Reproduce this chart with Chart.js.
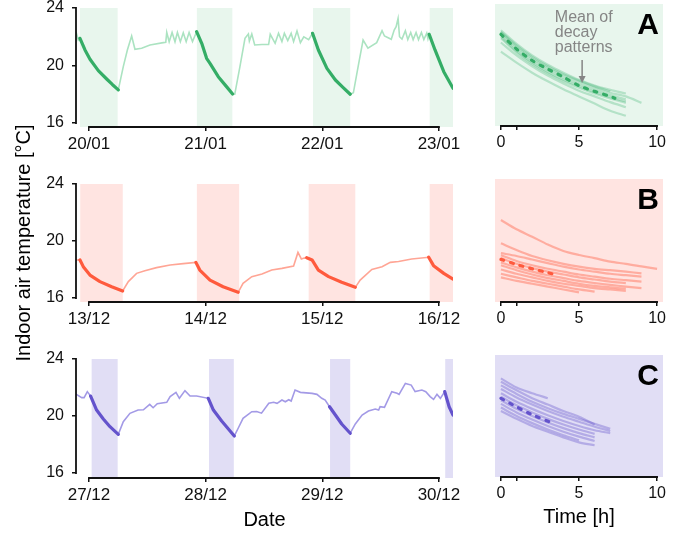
<!DOCTYPE html>
<html>
<head>
<meta charset="utf-8">
<script src="https://cdn.jsdelivr.net/npm/chart.js@4.4.1/dist/chart.umd.min.js"></script>
<style>
  html, body { margin: 0; padding: 0; background: #fff; }
  #wrap { position: relative; width: 691px; height: 534px; }
  #wrap canvas { position: absolute; left: 0; top: 0; }
</style>
</head>
<body>
<div id="wrap">
  <canvas id="rightA" width="691" height="534"></canvas>
  <canvas id="rightB" width="691" height="534"></canvas>
  <canvas id="rightC" width="691" height="534"></canvas>
  <canvas id="leftA" width="691" height="534"></canvas>
  <canvas id="leftB" width="691" height="534"></canvas>
  <canvas id="leftC" width="691" height="534"></canvas>
</div>
<script>
// ---- time series (hours from first midnight shown) ----
const dayTicks = [0, 24, 48, 72];
const tempTicks = [16, 20, 24];

const datesA = ['20/01', '21/01', '22/01', '23/01'];
const hoursA = [-2.67, -2.2, -1.85, -0.82, 0.21, 1.92, 3.64, 4.8, 6.03, 7.06, 7.9, 8.78, 9.46, 10.84, 12.55, 15.3, 15.8,
  16.0, 16.5, 17.1, 17.7, 18.2, 18.8, 19.4, 20.0, 20.6, 21.3, 22.15, 23.2, 24.2, 24.9, 26.6, 28.3, 29.55,
  30.0, 31.06, 32.1, 32.8, 33.0, 33.5, 34.1, 35.6, 36.96, 37.3, 38.3, 39.0, 39.7, 40.2, 40.9, 41.6, 42.1, 42.8,
  43.5, 44.2, 45.2, 46.0, 47.2, 48.96, 50.7, 52.2, 53.75, 54.4, 55.5, 56.4, 57.4, 59.2, 60.3, 60.8, 62.2, 62.8,
  63.2, 63.6, 63.9, 64.4, 65.1, 65.6, 66.2, 66.7, 67.3, 67.8, 68.4, 68.9, 69.5, 69.75, 70.0, 71.2, 73.0, 74.9];
const tempsA = [22.35, 21.77, 21.89, 21.08, 20.43, 19.64, 19.06, 18.68, 18.3, 19.92, 21.08, 22.05, 21.13, 21.2, 21.43, 21.59, 21.62,
  22.31, 21.65, 22.3, 21.65, 22.3, 21.66, 22.28, 21.66, 22.3, 21.66, 22.35, 21.54, 20.5, 20.15, 19.22, 18.53, 18.02,
  18.0, 19.92, 21.89, 22.19, 21.7, 22.19, 21.43, 21.46, 21.46, 22.17, 21.54, 22.24, 21.66, 22.24, 21.73, 22.24, 21.66, 22.4,
  21.59, 22.0, 21.8, 22.24, 21.08, 19.8, 18.99, 18.5, 18.0, 18.1, 20.15, 21.77, 21.2, 21.59, 22.42, 22.05, 21.82, 22.47,
  22.7, 23.28, 22.0, 21.84, 22.42, 21.8, 22.3, 21.8, 22.3, 21.8, 22.3, 21.8, 22.25, 21.85, 22.17, 21.08, 19.57, 18.41];
const decayA = [[-1.85, 6.03], [22.15, 29.55], [46.0, 53.75], [70.0, 74.9]];
const nightA = [[-1.85, 5.9], [22.2, 29.5], [46.1, 53.75], [70.1, 75]];

const datesB = ['13/12', '14/12', '15/12', '16/12'];
const hoursB = [-2.67, -1.85, -1.17, 0.2, 2.26, 4.67, 6.93, 8.1, 9.8, 11.5, 13.9, 16.7, 19.4, 22.0, 22.8, 24.9, 27.6, 30.7,
  31.7, 33.5, 35.6, 37.6, 39.7, 42.1, 43.0, 43.7, 44.3, 44.8, 45.9, 47.2, 49.3, 52.0, 54.8, 55.8, 58.2, 60.3, 62.0,
  63.7, 66.4, 69.9, 70.9, 73.0, 74.9];
const tempsB = [18.67, 18.67, 18.2, 17.61, 17.15, 16.79, 16.49, 17.15, 17.73, 17.92, 18.13, 18.32, 18.41, 18.5, 17.96, 17.26, 16.79, 16.4,
  17.03, 17.5, 17.68, 17.96, 18.08, 18.25, 19.2, 18.74, 18.8, 18.83, 18.67, 17.96, 17.5, 17.1, 16.75, 17.26, 18.0, 18.2, 18.5,
  18.56, 18.74, 18.86, 18.27, 17.73, 17.33];
const decayB = [[-1.85, 6.93], [22.0, 30.7], [44.8, 54.8], [69.9, 74.9]];
const nightB = [[-1.8, 6.95], [22.2, 30.9], [45.2, 54.8], [70.1, 75]];

const datesC = ['27/12', '28/12', '29/12', '30/12'];
const hoursC = [-2.67, -1.5, -1.0, -0.34, 0.34, 1.57, 2.95, 4.32, 6.03, 7.06, 8.43, 10.1, 11.2, 12.5, 13.2, 14.05, 16.0, 16.7,
  17.9, 18.6, 19.75, 20.8, 22.15, 24.55, 25.6, 27.3, 29.9, 30.7, 31.7, 33.5, 34.5, 35.5, 37.0, 38.0, 38.7, 39.7, 40.4,
  41.1, 41.6, 42.4, 43.5, 45.9, 46.9, 47.9, 48.6, 49.5, 50.7, 52.0, 53.75, 54.8, 56.2, 57.5, 58.9, 59.6, 59.9, 60.8,
  62.3, 63.4, 63.8, 65.1, 66.3, 67.1, 68.5, 69.3, 70.2, 70.9, 71.6, 72.3, 73.2, 74.1, 74.9];
const tempsC = [21.54, 21.29, 21.29, 21.71, 21.4, 20.42, 19.79, 19.25, 18.71, 19.6, 20.19, 20.42, 20.44, 20.82, 20.58, 20.86, 20.96, 21.36,
  21.66, 21.24, 21.78, 21.4, 21.4, 21.24, 20.42, 19.65, 18.6, 19.14, 19.84, 20.3, 20.32, 20.2, 20.89, 20.96, 20.89, 21.12, 21.0,
  21.14, 21.05, 21.82, 21.66, 21.59, 21.52, 21.24, 21.12, 20.65, 20.07, 19.44, 18.79, 19.44, 20.07, 20.35, 20.49, 20.42, 20.65, 20.61,
  21.71, 21.59, 21.52, 22.29, 22.17, 21.71, 21.82, 21.71, 21.36, 21.17, 21.52, 21.24, 21.71, 20.65, 20.07];
const decayC = [[0.34, 6.03], [24.55, 29.9], [49.5, 53.75], [73.2, 74.9]];
const nightC = [[0.55, 5.9], [24.7, 29.8], [49.6, 53.75], [73.3, 75]];

// ---- decay patterns (hourly samples from start of decay) ----
const timeTicks = [0, 1, 5, 10];
const timeTickLabels = ['0', '', '5', '10'];

const curvesA = [
  [22.45, 21.5, 20.7, 20.05, 19.5, 19.0, 18.6, 18.3, 18.05],
  [22.3, 21.3, 20.5, 19.85, 19.3, 18.85, 18.45, 18.1, 17.85, 17.4],
  [22.15, 21.15, 20.35, 19.7, 19.15, 18.7, 18.3, 17.95, 17.65],
  [22.0, 21.0, 20.2, 19.55, 19.0, 18.55, 18.15, 17.8, 17.5],
  [21.9, 20.9, 20.1, 19.45, 18.9, 18.45, 18.05, 17.7, 17.4],
  [22.35, 21.4, 20.6, 19.95, 19.4, 18.95, 18.55, 18.2],
  [21.6, 20.7, 19.95, 19.3, 18.75, 18.25, 17.85, 17.45, 17.1],
  [20.96, 20.2, 19.5, 18.9, 18.35, 17.85, 17.35, 16.85, 16.5]
];
const meanHoursA = [0, 1, 2, 3, 4, 5, 6, 7, 7.3];
const meanTempsA = [22.17, 21.15, 20.35, 19.75, 19.2, 18.6, 18.2, 17.85, 17.72];

const curvesB = [
  [21.47, 20.82, 20.3, 19.75, 19.3, 19.02, 18.8, 18.55, 18.4, 18.22, 18.04],
  [19.84, 19.37, 18.95, 18.65, 18.4, 18.2, 18.05, 17.95, 17.85, 17.73],
  [19.15, 18.95, 18.7, 18.45, 18.2, 18.0, 17.85, 17.7, 17.6, 17.5],
  [19.0, 18.6, 18.3, 18.05, 17.85, 17.65, 17.5, 17.35, 17.25, 17.15],
  [18.8, 18.4, 18.1, 17.85, 17.65, 17.45, 17.3, 17.15, 17.05],
  [18.5, 18.15, 17.85, 17.6, 17.4, 17.2, 17.05, 16.92, 16.8, 16.7],
  [18.3, 17.95, 17.65, 17.4, 17.2, 17.0, 16.85, 16.75, 16.65],
  [18.0, 17.7, 17.45, 17.2, 17.0, 16.85, 16.7, 16.6, 16.5],
  [17.7, 17.45, 17.2, 17.0, 16.8, 16.6, 16.45],
  [17.45, 17.2, 17.0, 16.8, 16.6, 16.4]
];
const meanHoursB = [0, 1, 2, 3, 3.6];
const meanTempsB = [18.71, 18.35, 18.05, 17.78, 17.61];

const curvesC = [
  [22.64, 22.0, 21.6, 21.25],
  [22.4, 21.8, 21.25, 20.8, 20.35, 19.95, 19.4],
  [22.15, 21.55, 21.0, 20.55, 20.15, 19.8, 19.45, 19.1],
  [21.9, 21.3, 20.8, 20.35, 19.95, 19.6, 19.25, 18.95],
  [21.6, 21.0, 20.5, 20.05, 19.65, 19.3, 19.0, 18.8],
  [21.35, 20.75, 20.25, 19.8, 19.4, 19.05, 18.75],
  [21.1, 20.5, 20.0, 19.55, 19.15, 18.8, 18.5],
  [20.85, 20.25, 19.75, 19.3, 18.9, 18.55, 18.25],
  [20.6, 20.0, 19.5, 19.05, 18.65, 18.3],
  [20.35, 19.8, 19.3, 18.9, 18.5, 18.15, 17.95]
];
const meanHoursC = [0, 0.7, 1.9, 3.25];
const meanTempsC = [21.24, 20.82, 20.14, 19.53];

// ---- styling ----
const FONT = "'Liberation Sans', Arial, Helvetica, sans-serif";
const INK = '#111';

const toPoints = (xs, ys) => xs.map((x, i) => ({ x: x, y: ys[i] }));

const decayPoints = (hours, temps, windows) => {
  const pts = [];
  windows.forEach(([s, e]) => {
    hours.forEach((h, i) => { if (h >= s && h <= e) pts.push({ x: h, y: temps[i] }); });
    pts.push({ x: e + 0.01, y: null });
  });
  return pts;
};

const panelPlugin = {
  id: 'panel',
  beforeDatasetsDraw(chart, args, opts) {
    const { ctx, chartArea: a, scales: { x } } = chart;
    ctx.save();
    if (opts.background) {
      ctx.fillStyle = opts.background;
      ctx.fillRect(a.left, a.top, a.right - a.left, a.bottom - a.top);
    }
    (opts.shades || []).forEach(([s, e]) => {
      const x1 = Math.max(x.getPixelForValue(s), a.left);
      const x2 = Math.min(x.getPixelForValue(e), a.right);
      ctx.fillStyle = opts.shadeColor;
      ctx.fillRect(x1, a.top, x2 - x1, a.bottom - a.top);
    });
    ctx.restore();
  },
  afterDraw(chart, args, opts) {
    const { ctx, chartArea: a, scales: { x, y } } = chart;
    ctx.save();
    ctx.strokeStyle = INK;
    ctx.lineWidth = 1.8;
    ctx.beginPath();
    const xt = x.ticks.map(t => t.value);
    ctx.moveTo(x.getPixelForValue(xt[0]) - 0.9, a.bottom);
    ctx.lineTo(x.getPixelForValue(xt[xt.length - 1]) + 0.9, a.bottom);
    if (opts.ySpine) {
      const yt = y.ticks.map(t => t.value);
      ctx.moveTo(a.left, y.getPixelForValue(yt[0]) + 0.9);
      ctx.lineTo(a.left, y.getPixelForValue(yt[yt.length - 1]) - 0.9);
    }
    ctx.stroke();

    if (opts.letter) {
      ctx.font = 'bold 30px ' + FONT;
      ctx.fillStyle = '#000';
      ctx.textAlign = 'right';
      ctx.textBaseline = 'top';
      ctx.fillText(opts.letter, a.right - 4, a.top + 7);
    }

    if (opts.note) {
      const n = opts.note;
      ctx.fillStyle = '#858585';
      ctx.strokeStyle = '#858585';
      ctx.font = '16px ' + FONT;
      ctx.textAlign = 'left';
      ctx.textBaseline = 'middle';
      const tx = x.getPixelForValue(n.x), ty = y.getPixelForValue(n.y);
      n.lines.forEach((line, i) => ctx.fillText(line, tx, ty + i * 15));
      const ax = x.getPixelForValue(n.arrowX);
      const ay1 = y.getPixelForValue(n.arrowFrom), ay2 = y.getPixelForValue(n.arrowTo);
      ctx.lineWidth = 1.5;
      ctx.beginPath();
      ctx.moveTo(ax, ay1);
      ctx.lineTo(ax, ay2 - 6);
      ctx.stroke();
      ctx.beginPath();
      ctx.moveTo(ax - 3.5, ay2 - 7);
      ctx.lineTo(ax + 3.5, ay2 - 7);
      ctx.lineTo(ax, ay2);
      ctx.closePath();
      ctx.fill();
    }
    ctx.restore();
  }
};
Chart.register(panelPlugin);

const tickFont = { family: FONT, size: 16 };
const dateFont = { family: FONT, size: 17 };
const titleFont = { family: FONT, size: 20 };

// dataset index 0 is painted last (on top) in Chart.js
const leftChart = (id, p) => new Chart(document.getElementById(id), {
  type: 'line',
  data: {
    datasets: [
      { data: decayPoints(p.hours, p.temps, p.decay), borderColor: p.dark, borderWidth: 3.2, pointRadius: 0, spanGaps: false, borderCapStyle: 'round', borderJoinStyle: 'round' },
      { data: toPoints(p.hours, p.temps), borderColor: p.light, borderWidth: 1.6, pointRadius: 0, tension: 0 }
    ]
  },
  options: {
    responsive: false, animation: false, devicePixelRatio: 1, events: [],
    layout: { padding: { left: 0, top: p.top, right: 691 - 453, bottom: 534 - p.bottom - p.xh } },
    plugins: {
      legend: { display: false }, tooltip: { enabled: false },
      panel: { shades: p.night, shadeColor: p.shade, ySpine: true }
    },
    scales: {
      x: {
        type: 'linear', min: -2.67, max: 74.9,
        afterBuildTicks: s => { s.ticks = dayTicks.map(v => ({ value: v })); },
        afterFit: s => { s.height = p.xh; s.paddingLeft = 0; s.paddingRight = 0; },
        ticks: { callback: (v, i) => p.dates[i], font: dateFont, color: INK, padding: 3, maxRotation: 0, autoSkip: false },
        grid: { drawOnChartArea: false, drawTicks: true, tickLength: 4, color: INK, lineWidth: 1.5 },
        border: { display: false },
        title: { display: !!p.xTitle, text: p.xTitle || '', font: titleFont, color: '#000', padding: 0 }
      },
      y: {
        type: 'linear', min: p.yMin, max: 24,
        afterBuildTicks: s => { s.ticks = tempTicks.map(v => ({ value: v })); },
        afterFit: s => { s.width = 76; s.paddingTop = 0; s.paddingBottom = 0; },
        ticks: { font: tickFont, color: INK, padding: 8 },
        grid: { drawOnChartArea: false, drawTicks: true, tickLength: 4, color: INK, lineWidth: 1.5 },
        border: { display: false },
        title: { display: !!p.yTitle, text: p.yTitle || '', font: titleFont, color: '#000', padding: { top: 12 } }
      }
    }
  }
});

const rightChart = (id, p) => new Chart(document.getElementById(id), {
  type: 'line',
  data: {
    datasets: [{
      data: toPoints(p.meanHours, p.meanTemps), borderColor: p.dark, borderWidth: 3.2, borderDash: [3, 7],
      borderCapStyle: 'round', pointRadius: 0, tension: 0.3
    }].concat(p.curves.map(c => ({
      data: c.map((t, h) => ({ x: h, y: t })), borderColor: p.band, borderWidth: 2.2, pointRadius: 0, tension: 0.3
    })))
  },
  options: {
    responsive: false, animation: false, devicePixelRatio: 1, events: [],
    layout: { padding: { left: 495, top: p.top, right: 691 - 663, bottom: 534 - p.bottom - p.xh } },
    plugins: {
      legend: { display: false }, tooltip: { enabled: false },
      panel: { background: p.shade, letter: p.letter, note: p.note }
    },
    scales: {
      x: {
        type: 'linear', min: -0.38, max: 10.38,
        afterBuildTicks: s => { s.ticks = timeTicks.map(v => ({ value: v })); },
        afterFit: s => { s.height = p.xh; s.paddingLeft = 0; s.paddingRight = 0; },
        ticks: { callback: (v, i) => timeTickLabels[i], font: tickFont, color: INK, padding: 3, maxRotation: 0, autoSkip: false },
        grid: { drawOnChartArea: false, drawTicks: true, tickLength: 4, color: INK, lineWidth: 1.5 },
        border: { display: false },
        title: { display: !!p.xTitle, text: p.xTitle || '', font: titleFont, color: '#000', padding: 0 }
      },
      y: { type: 'linear', display: false, min: p.yMin, max: p.yMax }
    }
  }
});

const green = { dark: '#34ad66', light: '#abe3c1', shade: '#e8f6ed', band: 'rgba(60,179,113,0.3)' };
const red = { dark: '#ff5a3d', light: '#ffa595', shade: '#ffe4e1', band: 'rgba(255,105,80,0.45)' };
const purple = { dark: '#6453cc', light: '#a39ae6', shade: '#e1def5', band: 'rgba(106,90,205,0.38)' };

leftChart('leftA', { hours: hoursA, temps: tempsA, decay: decayA, night: nightA, dates: datesA,
  top: 8, bottom: 127, xh: 30, yMin: 15.72, dark: green.dark, light: green.light, shade: green.shade });
leftChart('leftB', { hours: hoursB, temps: tempsB, decay: decayB, night: nightB, dates: datesB,
  top: 184, bottom: 302, xh: 30, yMin: 15.72, dark: red.dark, light: red.light, shade: red.shade,
  yTitle: 'Indoor air temperature [\u00B0C]' });
leftChart('leftC', { hours: hoursC, temps: tempsC, decay: decayC, night: nightC, dates: datesC,
  top: 359, bottom: 478, xh: 54, yMin: 15.65, dark: purple.dark, light: purple.light, shade: purple.shade,
  xTitle: 'Date' });

rightChart('rightA', { curves: curvesA, meanHours: meanHoursA, meanTemps: meanTempsA, top: 4, bottom: 126, xh: 30,
  yMin: 15.79, yMax: 24.28, dark: green.dark, band: green.band, shade: green.shade, letter: 'A',
  note: { x: 3.45, y: 23.3, lines: ['Mean of', 'decay', 'patterns'], arrowX: 5.2, arrowFrom: 20.38, arrowTo: 18.78 } });
rightChart('rightB', { curves: curvesB, meanHours: meanHoursB, meanTemps: meanTempsB, top: 179, bottom: 302, xh: 30,
  yMin: 15.72, yMax: 24.35, dark: red.dark, band: red.band, shade: red.shade, letter: 'B' });
rightChart('rightC', { curves: curvesC, meanHours: meanHoursC, meanTemps: meanTempsC, top: 355, bottom: 477, xh: 52,
  yMin: 15.72, yMax: 24.28, dark: purple.dark, band: purple.band, shade: purple.shade, letter: 'C',
  xTitle: 'Time [h]' });
</script>
</body>
</html>
